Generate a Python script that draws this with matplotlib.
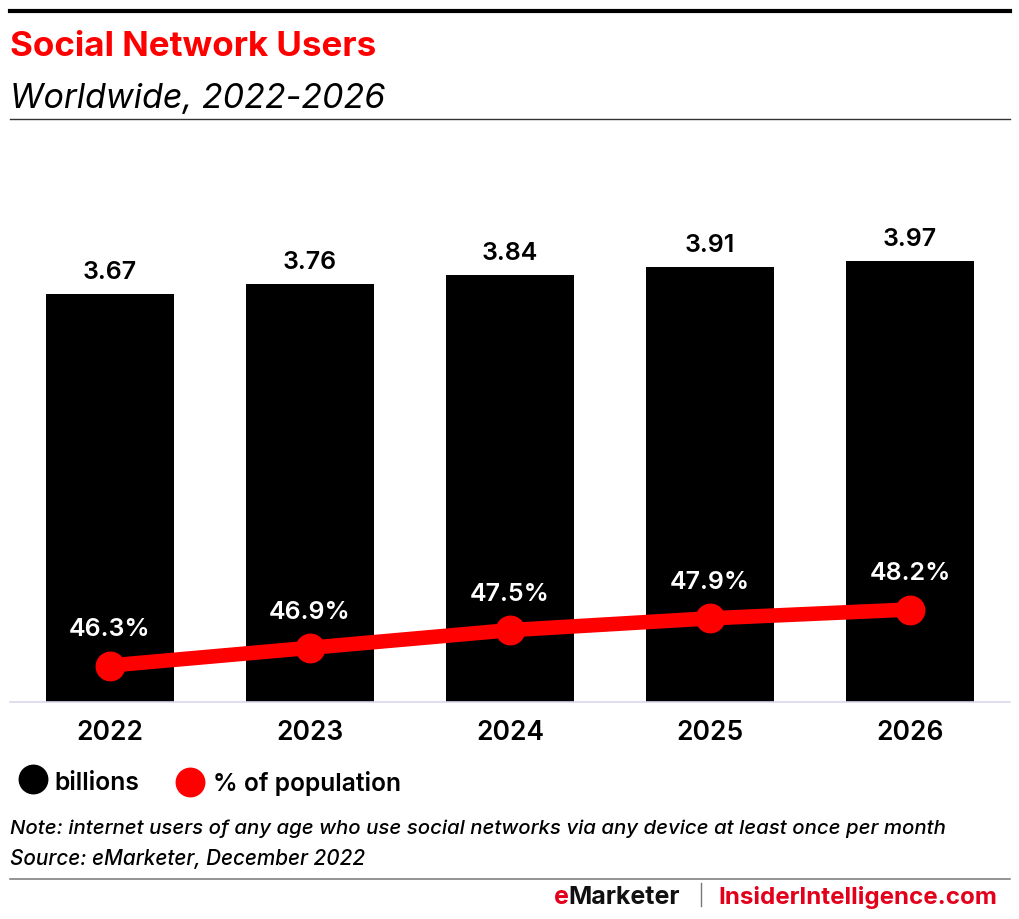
import matplotlib
matplotlib.use("Agg")
import matplotlib.pyplot as plt
from matplotlib.lines import Line2D

years = ["2022", "2023", "2024", "2025", "2026"]
billions = [3.67, 3.76, 3.84, 3.91, 3.97]
pct = [46.3, 46.9, 47.5, 47.9, 48.2]
FONT = ["Inter", "DejaVu Sans"]
plt.rcParams["font.family"] = FONT
W, H = 1020, 920
RED = "#ff0000"
fig = plt.figure(figsize=(W/100, H/100), dpi=100, facecolor="white")

def fx(x): return x/W
def fy(y): return 1-y/H

ax = fig.add_axes([fx(10), fy(702.5), fx(1000), (562)/H])
ax.set_xlim(-0.5, 4.5)
ax.set_ylim(0, 562/441*3.97)
ax.bar(range(5), billions, width=0.64, color="black", zorder=2)
for i, v in enumerate(billions):
    ax.annotate(f"{v:.2f}", (i, v), xytext=(0, 11), textcoords="offset pixels",
                ha="center", va="bottom", fontsize=18, fontweight="semibold", color="black")
for s in ["top", "left", "right"]:
    ax.spines[s].set_visible(False)
ax.spines["bottom"].set_color("#d8d8ec")
ax.spines["bottom"].set_linewidth(1.2)
ax.set_yticks([])
ax.set_xticks(range(5))
ax.set_xticklabels(years, fontsize=19, fontweight="semibold")
ax.tick_params(axis="x", length=0, pad=12.5)

ax2 = ax.twinx()
for s in ax2.spines.values():
    s.set_visible(False)
ax2.set_yticks([])
slope = (92-36)/(48.2-46.3)
lo = 46.3-36/slope
ax2.set_ylim(lo, lo+562/slope)
ax2.plot(range(5), pct, color=RED, lw=10.5, marker="o", ms=20.5, mec=RED, solid_capstyle="round", zorder=3)
for i, v in enumerate(pct):
    ax2.annotate(f"{v:.1f}%", (i, v), xytext=(0, 25), textcoords="offset pixels",
                 ha="center", va="bottom", fontsize=18, fontweight="semibold", color="white")

# header
fig.add_artist(Line2D([fx(10), fx(1010)], [fy(12)]*2, color="black", lw=3))
fig.text(fx(10), fy(47), "Social Network Users", color=RED, fontsize=25.2, fontweight="bold", va="center")
fig.text(fx(10), fy(99), "Worldwide, 2022-2026", color="black", fontsize=24.5, style="italic", va="center")
fig.add_artist(Line2D([fx(10), fx(1010)], [fy(119.5)]*2, color="#333333", lw=1))

# legend
fig.add_artist(Line2D([fx(33)], [fy(780)], marker="o", ms=20.5, color="black", mec="black"))
fig.text(fx(54), fy(784), "billions", fontsize=17.8, fontweight="semibold", va="center")
fig.add_artist(Line2D([fx(190.5)], [fy(783)], marker="o", ms=20.5, color=RED, mec=RED))
fig.text(fx(213), fy(784), "% of population", fontsize=17.7, fontweight="semibold", va="center")

# notes
fig.text(fx(10), fy(829), "Note: internet users of any age who use social networks via any device at least once per month",
         fontsize=14.7, style="italic", fontweight="medium", va="center")
fig.text(fx(10), fy(859), "Source: eMarketer, December 2022", fontsize=14.9, style="italic", fontweight="medium", va="center")
fig.add_artist(Line2D([fx(10), fx(1010)], [fy(879.5)]*2, color="#777777", lw=1.1))

# footer
t_e = fig.text(fx(554), fy(898), "e", color="#e3001b", fontsize=18, fontweight="bold", va="center")
ext = t_e.get_window_extent(fig.canvas.get_renderer())
fig.text(ext.x1/W, fy(898), "Marketer", color="#111111", fontsize=18, fontweight="bold", va="center")
fig.add_artist(Line2D([fx(701)]*2, [fy(884), fy(907)], color="#777777", lw=1))
fig.text(fx(997), fy(898), "InsiderIntelligence.com", color="#e3001b", fontsize=17.4, fontweight="bold", va="center", ha="right")

fig.savefig("out.png", dpi=100)
